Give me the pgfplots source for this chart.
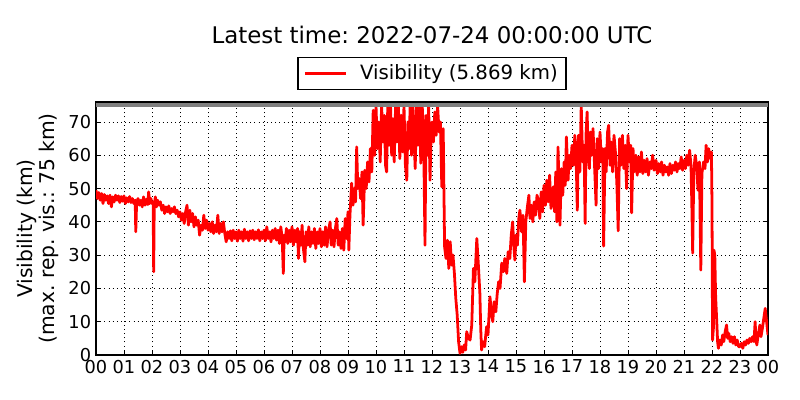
\documentclass[border=0pt]{standalone}
\usepackage{pgfplots}
\pgfplotsset{compat=1.18}
\usepackage{fontspec}
\setmainfont{DejaVu Sans}
\frenchspacing
\begin{document}
\begin{tikzpicture}
\useasboundingbox (0,0) rectangle (576pt,288pt);
\begin{axis}[
  at={(69.12pt,32.4pt)}, anchor=south west,
  scale only axis, width=483.84pt, height=182.16pt,
  xmin=0, xmax=24, ymin=0, ymax=76,
  xtick={0,1,...,24},
  xticklabels={00,01,02,03,04,05,06,07,08,09,10,11,12,13,14,15,16,17,18,19,20,21,22,23,00},
  ytick={0,10,...,70},
  /pgf/number format/assume math mode=true,
  tick label style={font=\fontsize{12.8}{15}\selectfont},
  tick align=inside, major tick length=3pt,
  tick style={black, line width=0.6pt},
  xtick pos=both, ytick pos=both,
  axis line style={line width=0.8pt},
  grid=major,
  grid style={black, line width=0.5pt, dash pattern=on 0.8pt off 2.2pt},
  ylabel={Visibility (km)\\(max. rep. vis.: 75 km)},
  ylabel style={align=center, font=\fontsize{14.6}{16}\selectfont, at={(axis description cs:0,0.5)}, anchor=south, inner sep=0pt, yshift=26.3pt},
  title={Latest time: 2022-07-24 00:00:00 UTC},
  title style={font=\fontsize{16.5}{19}\selectfont, at={(0.5,1)}, anchor=base, yshift=36pt, inner sep=0pt},
  legend style={at={(0.5,1)}, anchor=south, yshift=8.64pt, draw=black, line width=0.8pt, font=\fontsize{14.2}{17}\selectfont, inner xsep=4pt, inner ysep=3.5pt},
  legend cell align=left,
  legend image code/.code={\draw[#1] (0pt,0pt) -- (29.5pt,0pt); \path (36.7pt,0pt);},
]
\addplot[red, line width=2pt, line join=round] coordinates {
(0.00,49.5)(0.05,47)(0.10,48.8)(0.15,46.5)(0.20,48.5)(0.25,45.5)(0.30,48.2)(0.35,46.5)(0.40,47.8)(0.45,45.5)
(0.50,48)(0.55,44.5)(0.60,47.5)(0.65,46)(0.70,48)(0.75,46.5)(0.80,47.8)(0.85,45.8)(0.90,47.6)(0.95,46.2)
(1.00,47.8)(1.05,45.5)(1.10,47.2)(1.15,46)(1.20,47.6)(1.25,45.8)(1.30,47)(1.35,45.5)(1.40,46.5)(1.42,37)
(1.45,45.5)(1.50,47)(1.55,45)(1.60,46.5)(1.65,44.5)(1.70,47.5)(1.75,45)(1.80,46.8)(1.85,45.2)(1.88,49)
(1.92,45.5)(1.96,47)(2.00,45.5)(2.04,46)(2.06,25)(2.08,45)(2.12,47.5)(2.16,44.5)(2.20,46.5)(2.25,45)
(2.30,46)(2.35,43.5)(2.40,45)(2.45,42.5)(2.50,44.5)(2.55,43)(2.60,44.8)(2.65,42.5)(2.70,44)(2.75,43)
(2.80,44.5)(2.85,42.5)(2.90,43.5)(2.95,41.5)(3.00,43)(3.05,40.5)(3.10,42.5)(3.15,39.5)(3.20,43)(3.25,45)
(3.30,39)(3.35,43.5)(3.40,40)(3.45,42.5)(3.50,38.5)(3.55,41.5)(3.60,39)(3.65,40.5)(3.70,36)(3.75,39)
(3.80,37.5)(3.85,42)(3.90,38)(3.95,40.5)(4.00,37.5)(4.05,39.5)(4.10,37)(4.15,40)(4.20,36.5)(4.25,39)
(4.30,37)(4.35,42)(4.40,36.5)(4.45,39.5)(4.50,37)(4.55,40)(4.60,36.5)(4.65,34)(4.70,37)(4.75,35)
(4.80,37.3)(4.85,34.3)(4.90,37.5)(4.95,35)(5.00,37)(5.05,34.2)(5.10,37.5)(5.15,35)(5.20,37)(5.25,34.2)
(5.30,37.8)(5.35,35)(5.40,37)(5.45,34.3)(5.50,37.3)(5.55,35)(5.60,37.5)(5.65,34.6)(5.70,37)(5.75,35)
(5.80,37.6)(5.85,34.3)(5.90,37)(5.95,35)(6.00,37.5)(6.05,34.3)(6.10,38.5)(6.15,35)(6.20,37)(6.25,34)
(6.30,37.5)(6.35,35)(6.40,38)(6.45,34.5)(6.50,37.5)(6.55,33.5)(6.60,38.5)(6.65,35)(6.69,24.5)(6.72,36)
(6.76,34)(6.80,38)(6.85,33.5)(6.90,37.5)(6.95,34)(7.00,38.5)(7.05,33)(7.10,37.5)(7.15,34)(7.20,38)
(7.23,29)(7.27,37)(7.32,33)(7.36,39)(7.40,32.5)(7.46,28)(7.50,37)(7.55,33)(7.60,38.5)(7.65,32.5)
(7.70,37)(7.75,33.5)(7.80,38)(7.85,32)(7.90,37)(7.95,33.5)(8.00,38)(8.05,32.5)(8.10,37)(8.15,33)
(8.20,38.5)(8.25,32.5)(8.30,37)(8.36,40)(8.40,33)(8.45,37.5)(8.50,32.5)(8.55,38)(8.60,41)(8.65,33)
(8.70,37)(8.75,32)(8.80,38)(8.85,31.5)(8.90,41)(8.95,35)(9.00,43)(9.03,31.5)(9.07,42)(9.13,51.6)
(9.18,45)(9.22,50)(9.27,46)(9.31,62.5)(9.35,50)(9.40,53)(9.45,47)(9.50,55)(9.54,39)(9.60,55.5)
(9.65,50)(9.70,58)(9.75,52)(9.80,62)(9.85,55)(9.90,73.5)(9.95,60)(10.00,75)(10.05,62)(10.10,70)
(10.15,58)(10.20,75)(10.25,64)(10.30,72)(10.34,57)(10.38,55)(10.42,75)(10.47,63)(10.52,75)(10.56,60)
(10.60,71)(10.65,58)(10.70,75)(10.75,64)(10.80,75)(10.85,59)(10.90,72)(10.95,61)(11.00,75)(11.05,57)
(11.10,52.5)(11.14,70)(11.18,62)(11.22,75)(11.27,60)(11.32,75)(11.36,65)(11.40,56)(11.45,75)(11.50,63)
(11.55,75)(11.60,57.6)(11.65,75)(11.70,66)(11.75,33)(11.79,72)(11.84,60)(11.88,75)(11.93,52.5)(11.97,67)
(12.00,70)(12.05,64)(12.10,73)(12.15,66)(12.20,75)(12.25,67)(12.30,70)(12.35,50.5)(12.40,68)(12.45,32.5)
(12.50,29)(12.55,34.5)(12.60,26)(12.65,34)(12.70,27)(12.75,30)(12.80,24.5)(12.85,17)(12.90,12)(12.95,4)
(13.00,0.5)(13.05,2.5)(13.10,0.8)(13.15,3)(13.20,1.5)(13.24,7)(13.30,5)(13.36,4.5)(13.42,9)(13.48,26)
(13.53,22)(13.60,35)(13.65,28)(13.71,18.5)(13.74,8)(13.77,1.5)(13.82,4)(13.88,2.5)(13.95,8.5)(14.00,6)
(14.07,17.5)(14.12,13)(14.17,10)(14.22,16)(14.28,13)(14.33,18.5)(14.38,22)(14.43,20)(14.49,27.6)(14.55,25)
(14.60,29)(14.67,24.5)(14.72,31)(14.78,29)(14.83,36)(14.88,40)(14.92,33)(14.96,28.5)(15.00,36)(15.05,33)
(15.10,41)(15.14,43.5)(15.20,37)(15.25,42)(15.30,22)(15.35,40)(15.40,44)(15.46,48)(15.50,41)(15.55,45)
(15.60,40)(15.65,46)(15.70,42)(15.75,48)(15.80,46.5)(15.85,41)(15.90,49)(15.95,43)(16.00,51)(16.05,45)
(16.10,52.5)(16.15,46)(16.20,54)(16.25,44)(16.33,50.5)(16.38,43)(16.42,55)(16.46,40)(16.50,62.5)(16.54,50)
(16.57,39)(16.62,56)(16.67,48)(16.72,58)(16.76,51)(16.80,65.5)(16.86,52.5)(16.90,60)(16.95,56)(17.00,63)
(17.05,57)(17.10,66)(17.15,58)(17.19,43.5)(17.23,66)(17.28,55)(17.33,75)(17.38,58)(17.43,63)(17.47,39.5)
(17.50,66)(17.54,73)(17.58,60)(17.62,56)(17.66,67)(17.70,60)(17.75,68)(17.80,58)(17.86,45)(17.90,65)
(17.95,56)(18.00,67)(18.05,58)(18.10,62)(18.13,32.7)(18.18,62)(18.22,55)(18.27,67)(18.31,69)(18.36,57)
(18.40,64)(18.45,55)(18.50,66)(18.55,61)(18.60,52)(18.65,37.3)(18.70,65)(18.75,57)(18.80,66)(18.85,56)
(18.90,63)(18.95,50)(19.00,66)(19.05,58)(19.10,63)(19.13,42.7)(19.18,62)(19.22,55)(19.28,60)(19.33,54)
(19.38,59.5)(19.43,55)(19.48,61)(19.53,54.5)(19.58,58.5)(19.63,55)(19.68,59)(19.73,54)(19.78,58)(19.83,56)
(19.88,60)(19.93,55.5)(20.00,58.5)(20.05,54.5)(20.10,57.5)(20.15,55)(20.20,58)(20.25,54)(20.30,57)(20.35,55)
(20.40,56.5)(20.45,54)(20.50,57.5)(20.55,54.5)(20.60,57)(20.65,55.5)(20.70,58)(20.75,55)(20.80,57.5)(20.85,56)
(20.90,59.5)(20.95,55.5)(21.00,58.5)(21.05,56)(21.10,60)(21.15,57)(21.20,61.5)(21.25,57)(21.28,45)(21.31,30.6)
(21.35,55)(21.40,60)(21.45,57)(21.50,49.5)(21.55,58)(21.60,25.5)(21.64,54.6)(21.70,58)(21.75,56)(21.79,63)
(21.84,58)(21.88,62)(21.94,59)(21.98,61)(22.00,45)(22.02,4.5)(22.05,8)(22.07,31.5)(22.10,30)(22.13,17.5)
(22.17,10)(22.20,4)(22.23,2)(22.28,4.5)(22.33,3)(22.38,6)(22.42,4)(22.47,7)(22.52,9)(22.56,5)
(22.60,6.5)(22.65,4)(22.70,5.5)(22.75,3.5)(22.80,5.5)(22.85,3)(22.90,4.5)(22.95,2.5)(23.00,2.5)(23.05,3.5)
(23.10,2)(23.15,4)(23.20,3)(23.25,4.5)(23.30,3.5)(23.35,5)(23.40,4)(23.45,5.5)(23.50,4)(23.54,10)
(23.57,5)(23.60,3)(23.65,6)(23.71,9)(23.75,5.5)(23.80,8)(23.85,11)(23.90,14)(23.95,10)(24.00,6)
};
\addlegendentry{Visibility (5.869 km)}
\addplot[color={rgb,1:red,0.5;green,0.5;blue,0.5}, line width=2.8pt, forget plot] coordinates {(0,75) (24,75)};
\end{axis}
\end{tikzpicture}
\end{document}
